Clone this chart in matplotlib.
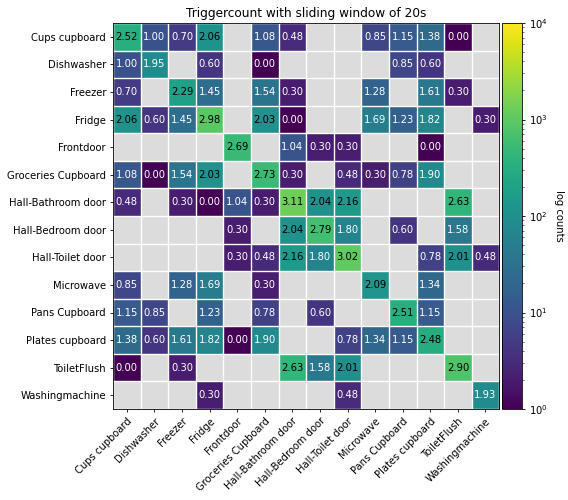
import numpy as np
import matplotlib.pyplot as plt
from matplotlib.colors import LogNorm

labels = ['Cups cupboard', 'Dishwasher', 'Freezer', 'Fridge', 'Frontdoor',
          'Groceries Cupboard', 'Hall-Bathroom door', 'Hall-Bedroom door',
          'Hall-Toilet door', 'Microwave', 'Pans Cupboard', 'Plates cupboard',
          'ToiletFlush', 'Washingmachine']

N = np.nan
# log10 of trigger counts, NaN where no transitions
log_counts = [
    [2.52, 1.00, 0.70, 2.06, N, 1.08, 0.48, N, N, 0.85, 1.15, 1.38, 0.00, N],
    [1.00, 1.95, N, 0.60, N, 0.00, N, N, N, N, 0.85, 0.60, N, N],
    [0.70, N, 2.29, 1.45, N, 1.54, 0.30, N, N, 1.28, N, 1.61, 0.30, N],
    [2.06, 0.60, 1.45, 2.98, N, 2.03, 0.00, N, N, 1.69, 1.23, 1.82, N, 0.30],
    [N, N, N, N, 2.69, N, 1.04, 0.30, 0.30, N, N, 0.00, N, N],
    [1.08, 0.00, 1.54, 2.03, N, 2.73, 0.30, N, 0.48, 0.30, 0.78, 1.90, N, N],
    [0.48, N, 0.30, 0.00, 1.04, 0.30, 3.11, 2.04, 2.16, N, N, N, 2.63, N],
    [N, N, N, N, 0.30, N, 2.04, 2.79, 1.80, N, 0.60, N, 1.58, N],
    [N, N, N, N, 0.30, 0.48, 2.16, 1.80, 3.02, N, N, 0.78, 2.01, 0.48],
    [0.85, N, 1.28, 1.69, N, 0.30, N, N, N, 2.09, N, 1.34, N, N],
    [1.15, 0.85, N, 1.23, N, 0.78, N, 0.60, N, N, 2.51, 1.15, N, N],
    [1.38, 0.60, 1.61, 1.82, 0.00, 1.90, N, N, 0.78, 1.34, 1.15, 2.48, N, N],
    [0.00, N, 0.30, N, N, N, 2.63, 1.58, 2.01, N, N, N, 2.90, N],
    [N, N, N, 0.30, N, N, N, N, 0.48, N, N, N, N, 1.93],
]

FS = 7.2


def main():
    vals = np.array(log_counts)
    counts = np.ma.masked_invalid(10 ** vals)
    n = len(labels)

    fig = plt.figure(figsize=(5.68, 5.0), dpi=100)
    ax = fig.add_axes([0.199, 0.182, 0.680, 0.772])
    cax = fig.add_axes([0.884, 0.182, 0.035, 0.772])

    ax.set_facecolor('#dcdcdc')
    im = ax.imshow(counts, cmap='viridis', norm=LogNorm(vmin=1, vmax=1e4),
                   aspect='auto', interpolation='nearest')

    for i in range(n):
        for j in range(n):
            v = vals[i, j]
            if np.isnan(v):
                continue
            color = 'black' if v >= 2.0 else 'white'
            ax.text(j, i, f'{v:.2f}', ha='center', va='center',
                    color=color, fontsize=FS)

    ax.set_xticks(np.arange(n))
    ax.set_yticks(np.arange(n))
    ax.set_xticklabels(labels, rotation=45, ha='right', rotation_mode='anchor',
                       fontsize=FS)
    ax.set_yticklabels(labels, fontsize=FS)
    ax.set_xticks(np.arange(n + 1) - 0.5, minor=True)
    ax.set_yticks(np.arange(n + 1) - 0.5, minor=True)
    ax.grid(which='minor', color='white', linewidth=1)
    ax.tick_params(which='minor', length=0)
    ax.tick_params(which='major', length=2.5, width=0.6, pad=2.5)
    for s in ax.spines.values():
        s.set_linewidth(0.6)
    ax.set_title('Triggercount with sliding window of 20s', fontsize=8.7,
                 pad=4)

    cb = fig.colorbar(im, cax=cax)
    cb.set_label('log counts', rotation=270, labelpad=12, fontsize=FS)
    cb.ax.tick_params(labelsize=FS, length=2.5, width=0.6, pad=2.5)
    cb.ax.tick_params(which='minor', length=1.5, width=0.4)
    cb.outline.set_linewidth(0.6)

    fig.savefig('out.png', dpi=100)
    plt.close(fig)


if __name__ == '__main__':
    main()
